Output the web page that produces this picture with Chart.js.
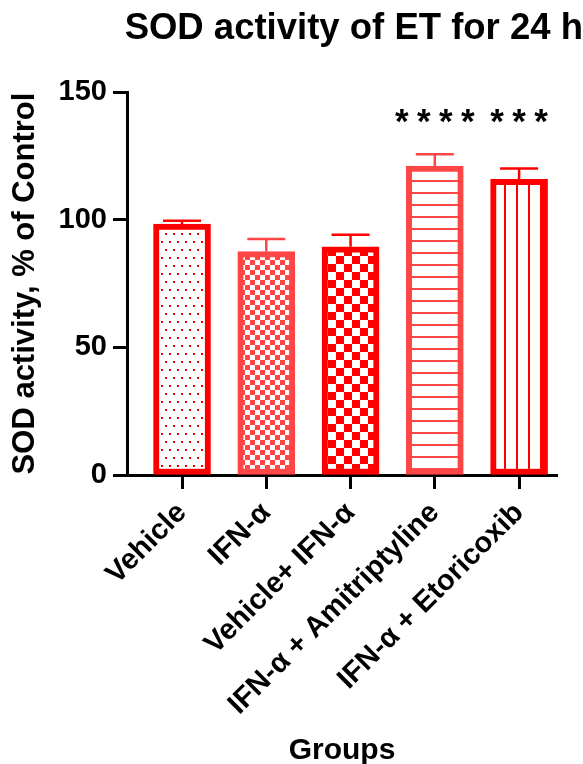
<!DOCTYPE html>
<html lang="en">
<head>
  <meta charset="UTF-8">
  <title>SOD activity of ET for 24 h</title>
  <script src="https://cdn.jsdelivr.net/npm/chart.js"></script>
  <style>
    html, body { margin: 0; padding: 0; background: #fff; }
  </style>
</head>
<body>
  <canvas id="sod-chart" width="583" height="764"></canvas>

  <script>
    // data
    const groups = ['Vehicle', 'IFN-\u03b1', 'Vehicle+ IFN-\u03b1', 'IFN-\u03b1 + Amitriptyline', 'IFN-\u03b1 + Etoricoxib'];
    const means = [98.3, 87.5, 89.4, 121.0, 115.8];
    const sem = [1.3, 4.9, 4.7, 4.6, 4.2];
    const stars = [0, 0, 0, 4, 3];
    const yTicks = [0, 50, 100, 150];
    const starLevel = 140;

    const FONT = '"Liberation Sans", Arial, Helvetica, sans-serif';
    const RED = '#ff0000';
    const LIGHT = '#ff4646';
    const borderColors = [RED, LIGHT, RED, LIGHT, RED];

    // small tiles used as fill patterns
    function makePattern(w, h, draw) {
      const c = document.createElement('canvas');
      c.width = w;
      c.height = h;
      const g = c.getContext('2d');
      g.fillStyle = '#fff';
      g.fillRect(0, 0, w, h);
      draw(g);
      return document.getElementById('sod-chart').getContext('2d').createPattern(c, 'repeat');
    }

    const dots = makePattern(8, 16, g => {
      g.fillStyle = RED;
      g.fillRect(1, 1, 2, 2);
      g.fillRect(5, 9, 2, 2);
    });
    const smallCheck = makePattern(10, 10, g => {
      g.fillStyle = LIGHT;
      g.fillRect(0, 0, 5, 5);
      g.fillRect(5, 5, 5, 5);
    });
    const bigCheck = makePattern(16, 16, g => {
      g.fillStyle = RED;
      g.fillRect(0, 0, 8, 8);
      g.fillRect(8, 8, 8, 8);
    });
    const hLines = makePattern(12, 12, g => {
      g.fillStyle = LIGHT;
      g.fillRect(0, 0, 12, 2);
    });
    const vLines = makePattern(12, 12, g => {
      g.fillStyle = RED;
      g.fillRect(0, 0, 2, 12);
    });
    const fills = [dots, smallCheck, bigCheck, hLines, vLines];

    // error bars (upper only) and significance stars
    const extras = {
      id: 'extras',
      afterDatasetsDraw(chart) {
        const ctx = chart.ctx;
        const x = chart.scales.x;
        const y = chart.scales.y;
        ctx.save();
        means.forEach((m, i) => {
          const px = x.getPixelForValue(i);
          const top = y.getPixelForValue(m + sem[i]);
          const base = y.getPixelForValue(m);
          ctx.strokeStyle = borderColors[i];
          ctx.lineWidth = 2.5;
          ctx.beginPath();
          ctx.moveTo(px, base);
          ctx.lineTo(px, top);
          ctx.moveTo(px - 19, top);
          ctx.lineTo(px + 19, top);
          ctx.stroke();
          if (stars[i]) {
            ctx.fillStyle = '#000';
            ctx.font = 'bold 35px ' + FONT;
            ctx.textAlign = 'center';
            ctx.textBaseline = 'middle';
            const step = 22;
            const sy = y.getPixelForValue(starLevel) + 6;
            for (let k = 0; k < stars[i]; k++) {
              ctx.fillText('*', px + (k - (stars[i] - 1) / 2) * step, sy);
            }
          }
        });
        ctx.restore();
      }
    };

    const noGrid = { display: false };

    new Chart(document.getElementById('sod-chart'), {
      type: 'bar',
      data: {
        datasets: [{
          data: means.map((v, i) => ({ x: i, y: v })),
          backgroundColor: fills,
          borderColor: borderColors,
          borderWidth: 6,
          borderSkipped: false,
          barThickness: 57
        }]
      },
      options: {
        responsive: false,
        animation: false,
        layout: { padding: 0 },
        plugins: {
          legend: { display: false },
          tooltip: { enabled: false },
          title: {
            display: true,
            text: 'SOD activity of ET for 24 h',
            align: 'end',
            color: '#000',
            font: { family: FONT, size: 36.5, weight: 'bold' },
            padding: { top: 7, bottom: 41.2 }
          }
        },
        scales: {
          x: {
            type: 'linear',
            offset: false,
            min: -0.653,
            max: 4.45,
            z: 1,
            afterBuildTicks: s => { s.ticks = groups.map((g, i) => ({ value: i })); },
            afterFit: s => { s.height = 289; },
            ticks: {
              callback: v => groups[v],
              minRotation: 45,
              maxRotation: 45,
              padding: 7,
              color: '#000',
              font: { family: FONT, size: 29, weight: 'bold' }
            },
            grid: { offset: false, drawOnChartArea: false, drawTicks: true, tickLength: 14, tickWidth: 3, tickColor: '#000' },
            border: { display: true, color: '#000', width: 3 },
            title: {
              display: true,
              text: 'Groups',
              color: '#000',
              font: { family: FONT, size: 30, weight: 'bold' },
              padding: { top: 0, bottom: -5 }
            }
          },
          y: {
            min: 0,
            max: 150,
            z: 1,
            afterBuildTicks: s => { s.ticks = yTicks.map(v => ({ value: v })); },
            afterFit: s => { s.width = 127; },
            ticks: {
              padding: 6,
              color: '#000',
              font: { family: FONT, size: 29, weight: 'bold' }
            },
            grid: { drawOnChartArea: false, drawTicks: true, tickLength: 14, tickWidth: 3, tickColor: '#000' },
            border: { display: true, color: '#000', width: 3 },
            title: {
              display: true,
              text: 'SOD activity, % of Control',
              color: '#000',
              font: { family: FONT, size: 31, weight: 'bold' },
              padding: { top: 7, bottom: 0 }
            }
          },
          // empty strip on the right so the plot ends before the canvas edge
          spacer: {
            type: 'linear',
            position: 'right',
            afterFit: s => { s.width = 26; },
            ticks: { display: false },
            grid: noGrid,
            border: { display: false }
          }
        }
      },
      plugins: [extras]
    });
  </script>
</body>
</html>
